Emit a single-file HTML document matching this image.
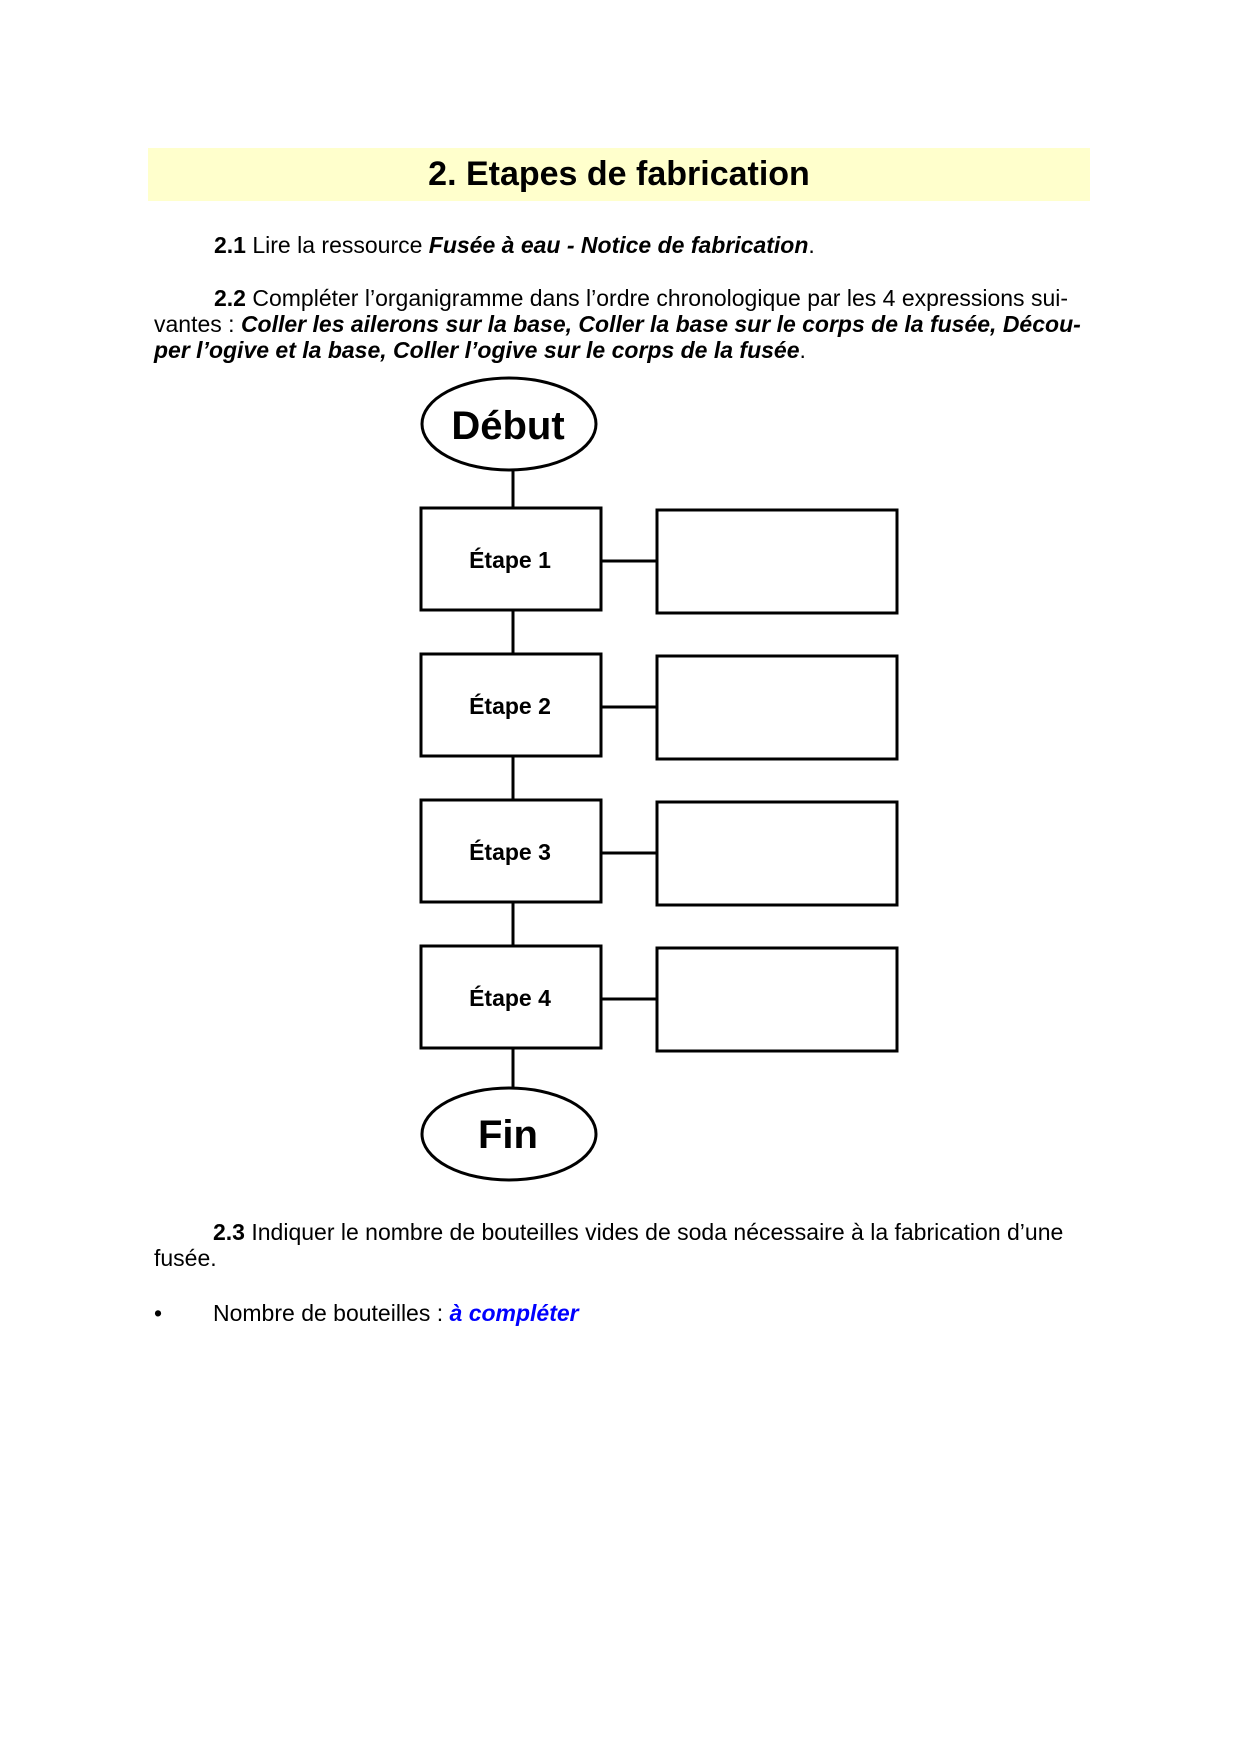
<!DOCTYPE html>
<html><head><meta charset="utf-8"><style>
html,body{margin:0;padding:0;background:#fff;}
body{width:1240px;height:1754px;position:relative;overflow:hidden;font-family:"Liberation Sans",Arial,sans-serif;color:#000;}
.t{position:absolute;font-size:23px;line-height:26px;white-space:nowrap;}
#title{position:absolute;left:148px;top:148px;width:942px;height:53px;background:#ffffcc;text-align:center;font-weight:bold;font-size:34px;line-height:53px;}
.j{position:absolute;left:154px;width:925px;font-size:23px;line-height:26px;height:26px;text-align:justify;text-align-last:justify;white-space:nowrap;}
</style></head><body>
<div id="title">2. Etapes de fabrication</div>
<div class="t" style="left:214px;top:232px;"><b>2.1</b> Lire la ressource <b><i>Fusée à eau - Notice de fabrication</i></b>.</div>
<div class="j" style="top:285px;left:214px;width:848px;"><b>2.2</b> Compléter l’organigramme dans l’ordre chronologique par les 4 expressions sui-</div>
<div class="j" style="top:311px;">vantes : <b><i>Coller les ailerons sur la base, Coller la base sur le corps de la fusée, Décou-</i></b></div>
<div class="t" style="left:154px;top:337px;"><b><i>per l’ogive et la base, Coller l’ogive sur le corps de la fusée</i></b>.</div>
<svg style="position:absolute;left:0;top:0" width="1240" height="1754">
<g stroke="#000" stroke-width="3" fill="#fff">
<line x1="513" y1="470" x2="513" y2="1088"/>
<ellipse cx="509" cy="424" rx="87" ry="46"/>
<ellipse cx="509" cy="1134" rx="87" ry="46"/>
<rect x="421" y="508" width="180" height="102"/>
<rect x="421" y="654" width="180" height="102"/>
<rect x="421" y="800" width="180" height="102"/>
<rect x="421" y="946" width="180" height="102"/>
<rect x="657" y="510" width="240" height="103"/>
<rect x="657" y="656" width="240" height="103"/>
<rect x="657" y="802" width="240" height="103"/>
<rect x="657" y="948" width="240" height="103"/>
<line x1="601" y1="561" x2="657" y2="561"/>
<line x1="601" y1="707" x2="657" y2="707"/>
<line x1="601" y1="853" x2="657" y2="853"/>
<line x1="601" y1="999" x2="657" y2="999"/>
</g>
<g font-family="Liberation Sans,Arial,sans-serif" font-weight="bold" text-anchor="middle">
<text x="508" y="439" font-size="40">Début</text>
<text x="508" y="1148" font-size="40">Fin</text>
<text x="510" y="568" font-size="23">Étape 1</text>
<text x="510" y="714" font-size="23">Étape 2</text>
<text x="510" y="860" font-size="23">Étape 3</text>
<text x="510" y="1006" font-size="23">Étape 4</text>
</g>
</svg>
<div class="t" style="left:213px;top:1219px;"><b>2.3</b> Indiquer le nombre de bouteilles vides de soda nécessaire à la fabrication d’une</div>
<div class="t" style="left:154px;top:1245px;">fusée.</div>
<div class="t" style="left:154px;top:1300px;">•</div>
<div class="t" style="left:213px;top:1300px;">Nombre de bouteilles : <b><i style="color:#0000ff">à compléter</i></b></div>
</body></html>
